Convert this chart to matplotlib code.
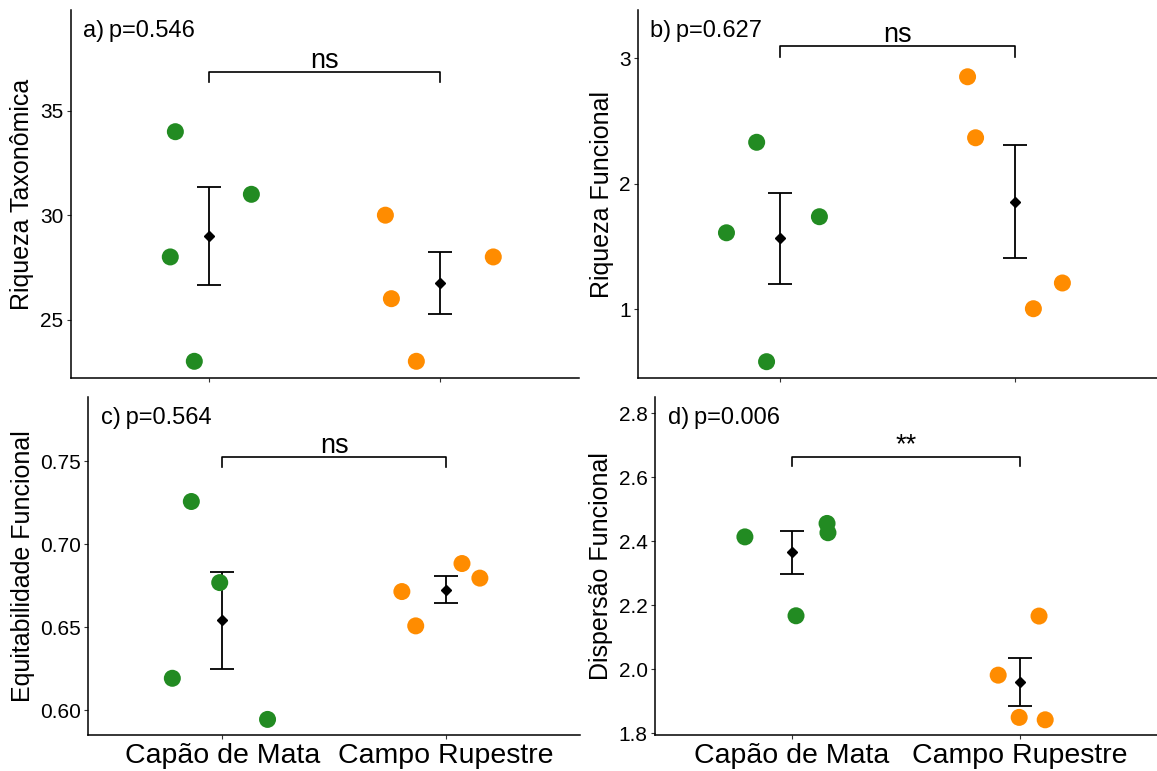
import numpy as np
import matplotlib
matplotlib.use("Agg")
import matplotlib.pyplot as plt

plt.rcParams['font.family'] = ['Liberation Sans', 'DejaVu Sans']

categories = ["Capão de Mata", "Campo Rupestre"]
colors = ["#228B22", "#FF8C00"]

# Panel a: Riqueza Taxonômica
a_mata = [34, 28, 31, 23]
a_campo = [30, 26, 23, 28]
a_jit_mata = [-0.147, -0.169, 0.182, -0.065]
a_jit_campo = [-0.238, -0.212, -0.104, 0.229]

# Panel b: Riqueza Funcional
b_mata = [2.331, 1.610, 1.738, 0.583]
b_campo = [2.853, 2.367, 1.005, 1.210]
b_jit_mata = [-0.097, -0.225, 0.169, -0.055]
b_jit_campo = [-0.203, -0.169, 0.076, 0.199]

# Panel c: Equitabilidade Funcional
c_mata = [0.7258, 0.6769, 0.6192, 0.5944]
c_campo = [0.6715, 0.6508, 0.6884, 0.6796]
c_jit_mata = [-0.139, -0.012, -0.224, 0.202]
c_jit_campo = [-0.197, -0.135, 0.072, 0.152]

# Panel d: Dispersão Funcional
d_mata = [2.414, 2.456, 2.427, 2.1675]
d_campo = [2.1666, 1.982, 1.850, 1.8425]
d_jit_mata = [-0.206, 0.154, 0.158, 0.018]
d_jit_campo = [0.083, -0.096, -0.004, 0.110]

panels = [
    dict(label="a)", p="p=0.546", ylabel="Riqueza Taxonômica",
         data=[a_mata, a_campo], jit=[a_jit_mata, a_jit_campo],
         yticks=[25, 30, 35], fmt="{:.0f}", ylim=(22.2, 39.83),
         br_y=36.87, br_tick=36.39, sig="ns",
         rect=[70.7, 10, 579, 378], xlabels=False),
    dict(label="b)", p="p=0.627", ylabel="Riqueza Funcional",
         data=[b_mata, b_campo], jit=[b_jit_mata, b_jit_campo],
         yticks=[1, 2, 3], fmt="{:.0f}", ylim=(0.453, 3.385),
         br_y=3.098, br_tick=3.013, sig="ns",
         rect=[638, 10, 1157, 378], xlabels=False),
    dict(label="c)", p="p=0.564", ylabel="Equitabilidade Funcional",
         data=[c_mata, c_campo], jit=[c_jit_mata, c_jit_campo],
         yticks=[0.60, 0.65, 0.70, 0.75], fmt="{:.2f}", ylim=(0.585, 0.789),
         br_y=0.7524, br_tick=0.7464, sig="ns",
         rect=[88.3, 396.7, 580, 735], xlabels=True),
    dict(label="d)", p="p=0.006", ylabel="Dispersão Funcional",
         data=[d_mata, d_campo], jit=[d_jit_mata, d_jit_campo],
         yticks=[1.8, 2.0, 2.2, 2.4, 2.6, 2.8], fmt="{:.1f}", ylim=(1.795, 2.852),
         br_y=2.664, br_tick=2.635, sig="**",
         rect=[655, 396.7, 1157, 735], xlabels=True),
]

W, H = 1157, 771
fig = plt.figure(figsize=(W / 100, H / 100), dpi=100)

for pn in panels:
    x0, y0, x1, y1 = pn["rect"]
    ax = fig.add_axes([x0 / W, (H - y1) / H, (x1 - x0) / W, (y1 - y0) / H])
    for i, (vals, jit) in enumerate(zip(pn["data"], pn["jit"])):
        pos = i + 1
        v = np.array(vals)
        m = v.mean()
        se = v.std(ddof=1) / np.sqrt(len(v))
        ax.errorbar([pos], [m], yerr=[se], fmt='none', ecolor='black',
                    elinewidth=1.3, capsize=8.3, capthick=1.3, zorder=2)
        ax.plot([pos], [m], marker='D', color='black', markersize=5, zorder=4)
        ax.scatter(pos + np.array(jit), v, s=150, color=colors[i],
                   edgecolors='none', zorder=3)
    # significance bracket
    ax.plot([1, 1, 2, 2], [pn["br_tick"], pn["br_y"], pn["br_y"], pn["br_tick"]],
            color='black', linewidth=1.2, zorder=2)
    ax.annotate(pn["sig"], xy=(1.5, pn["br_y"]), xytext=(0, 3),
                textcoords='offset points', ha='center', va='baseline',
                fontsize=19.5, color='black')
    # panel label
    ax.annotate(pn["label"] + "\u2009" + pn["p"], xy=(0, 1), xycoords='axes fraction',
                xytext=(9, -19.5), textcoords='offset points', ha='left',
                va='baseline', fontsize=17, color='black')
    ax.set_xlim(0.4, 2.6)
    ax.set_ylim(*pn["ylim"])
    ax.set_xticks([1, 2])
    if pn["xlabels"]:
        ax.set_xticklabels(categories, fontsize=20.5, color='black')
    else:
        ax.set_xticklabels([])
    ax.set_yticks(pn["yticks"])
    ax.set_yticklabels([pn["fmt"].format(t) for t in pn["yticks"]],
                       fontsize=15, color='black')
    ax.set_ylabel(pn["ylabel"], fontsize=18, labelpad=4, color='black')
    for s in ['top', 'right']:
        ax.spines[s].set_visible(False)
    for s in ['left', 'bottom']:
        ax.spines[s].set_linewidth(1.1)
        ax.spines[s].set_color('black')
    ax.tick_params(axis='both', length=2.75, width=0.8, color='#333333', pad=2.5)
    ax.tick_params(axis='x', pad=3)

fig.savefig("out.png", dpi=100)
